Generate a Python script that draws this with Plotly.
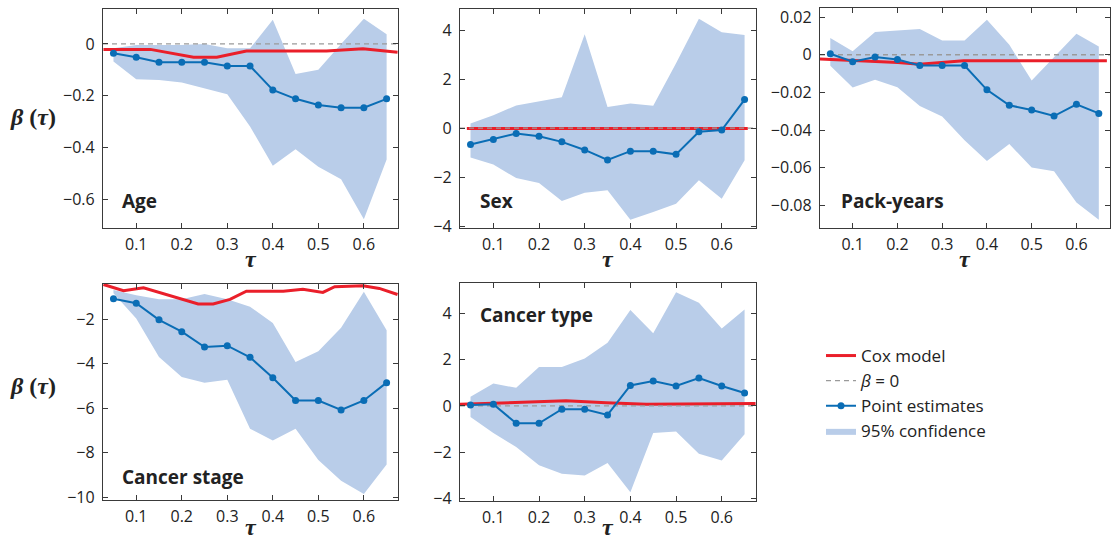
import plotly.graph_objects as go

# ---------------- data ----------------
tau = [0.05, 0.10, 0.15, 0.20, 0.25, 0.30, 0.35, 0.40, 0.45, 0.50, 0.55, 0.60, 0.65]

age_est = [-0.036, -0.051, -0.071, -0.071, -0.071, -0.085, -0.085, -0.178, -0.212, -0.236, -0.246, -0.246, -0.212]
age_hi = [-0.017, -0.004, -0.004, -0.004, 0.0, -0.017, -0.017, 0.093, -0.116, -0.100, 0.0, 0.097, 0.037]
age_lo = [-0.068, -0.136, -0.139, -0.149, -0.171, -0.194, -0.319, -0.471, -0.407, -0.474, -0.523, -0.677, -0.446]
age_cox_x = [0.028, 0.131, 0.226, 0.277, 0.342, 0.518, 0.598, 0.674]
age_cox_y = [-0.021, -0.021, -0.051, -0.051, -0.027, -0.027, -0.019, -0.032]

sex_est = [-0.67, -0.46, -0.22, -0.33, -0.56, -0.89, -1.30, -0.94, -0.94, -1.07, -0.15, -0.08, 1.17]
sex_hi = [0.19, 0.53, 0.93, 1.08, 1.26, 3.84, 0.87, 1.01, 0.92, 2.65, 4.47, 3.92, 3.81]
sex_lo = [-1.20, -1.49, -2.04, -2.24, -2.98, -2.64, -2.54, -3.74, -3.43, -3.09, -2.13, -2.88, -1.31]
sex_cox_x = [0.042, 0.657]
sex_cox_y = [-0.01, -0.01]

pack_est = [0.0005, -0.0037, -0.0012, -0.0025, -0.0057, -0.0057, -0.0057, -0.0186, -0.0268, -0.0293, -0.0325, -0.0263, -0.0311]
pack_hi = [0.0089, 0.0018, 0.0121, 0.0130, 0.0137, 0.0075, 0.0075, 0.0186, 0.0053, -0.0137, -0.0010, 0.0112, 0.0044]
pack_lo = [-0.0059, -0.0174, -0.0133, -0.0172, -0.0272, -0.0328, -0.0453, -0.0563, -0.0474, -0.0598, -0.0618, -0.0784, -0.0875]
pack_cox_x = [0.026, 0.201, 0.249, 0.348, 0.668]
pack_cox_y = [-0.0023, -0.0041, -0.0050, -0.0032, -0.0032]

stage_est = [-1.08, -1.28, -2.03, -2.56, -3.25, -3.19, -3.71, -4.63, -5.65, -5.65, -6.08, -5.65, -4.85]
stage_hi = [-0.69, -0.92, -1.10, -1.10, -0.87, -1.11, -1.44, -2.17, -3.92, -3.44, -2.39, -0.77, -2.50]
stage_lo = [-0.84, -1.97, -3.70, -4.60, -4.85, -4.72, -6.92, -7.45, -6.92, -8.32, -9.25, -9.85, -8.53]
stage_cox_x = [0.028, 0.072, 0.116, 0.182, 0.236, 0.269, 0.306, 0.342, 0.423, 0.466, 0.510, 0.536, 0.598, 0.634, 0.674]
stage_cox_y = [-0.44, -0.72, -0.59, -0.99, -1.32, -1.32, -1.11, -0.74, -0.74, -0.66, -0.80, -0.54, -0.50, -0.62, -0.89]

type_est = [0.04, 0.07, -0.75, -0.75, -0.14, -0.14, -0.39, 0.88, 1.07, 0.86, 1.20, 0.86, 0.56]
type_hi = [0.39, 0.97, 0.78, 1.68, 1.68, 2.04, 2.72, 4.14, 3.13, 4.90, 4.45, 3.34, 4.16]
type_lo = [-0.48, -1.17, -1.77, -2.56, -2.93, -3.00, -2.46, -3.72, -1.17, -1.10, -2.06, -2.35, -1.22]
type_cox_x = [0.025, 0.259, 0.347, 0.435, 0.674]
type_cox_y = [0.07, 0.22, 0.14, 0.07, 0.10]

panel_names = ["Age", "Sex", "Pack-years", "Cancer stage", "Cancer type"]
x_ticks = [0.1, 0.2, 0.3, 0.4, 0.5, 0.6]
y_ticks = [
    [0, -0.2, -0.4, -0.6],
    [-4, -2, 0, 2, 4],
    [0.02, 0, -0.02, -0.04, -0.06, -0.08],
    [-2, -4, -6, -8, -10],
    [-4, -2, 0, 2, 4],
]

# ---------------- layout constants ----------------
W, H = 1115, 540
X_RANGE = [0.027, 0.675]
Y_RANGES = [[-0.711, 0.135], [-4.08, 4.87], [-0.0919, 0.0248], [-10.12, -0.42], [-4.10, 5.30]]
# pixel boxes (left, right, top, bottom)
boxes = [(103, 398, 9, 228), (460, 756, 9, 228), (820, 1110, 8, 228),
         (103, 398, 284, 500), (460, 756, 283, 501)]
label_pos = [(0.058, 0.123), (0.061, 0.123), (0.066, 0.123),
             (0.058, 0.108), (0.061, 0.854)]
tau_label_offset = [31, 31, 31, 27, 26]

BAND = "#b9cde9"
BLUE = "#0a6db5"
RED = "#ea1f2a"
GRAY = "#9a9a9a"
AX = "#3a3a3a"
TXT = "#222222"
SANS = "Open Sans, Noto Sans, sans-serif"
SERIF = "Liberation Serif, DejaVu Serif, serif"

panels = [
    (age_est, age_hi, age_lo, age_cox_x, age_cox_y),
    (sex_est, sex_hi, sex_lo, sex_cox_x, sex_cox_y),
    (pack_est, pack_hi, pack_lo, pack_cox_x, pack_cox_y),
    (stage_est, stage_hi, stage_lo, stage_cox_x, stage_cox_y),
    (type_est, type_hi, type_lo, type_cox_x, type_cox_y),
]

fig = go.Figure()
layout = dict(
    width=W, height=H, margin=dict(l=0, r=0, t=0, b=0, pad=0),
    paper_bgcolor="white", plot_bgcolor="white",
    font=dict(family=SANS, size=16, color=TXT),
    showlegend=True,
)
annotations = []

for i, (est, hi, lo, cx, cy) in enumerate(panels):
    n = i + 1
    xa = "x" if n == 1 else f"x{n}"
    ya = "y" if n == 1 else f"y{n}"
    first = i == 0
    # confidence band
    fig.add_trace(go.Scatter(
        x=tau + tau[::-1], y=hi + lo[::-1], fill="toself", fillcolor=BAND,
        line=dict(width=0, color=BAND), mode="lines", hoverinfo="skip",
        name="95% confidence", legendgroup="ci", showlegend=first, legendrank=4,
        xaxis=xa, yaxis=ya))
    # Cox model
    fig.add_trace(go.Scatter(
        x=cx, y=cy, mode="lines", line=dict(color=RED, width=3),
        name="Cox model", legendgroup="cox", showlegend=first, legendrank=1,
        xaxis=xa, yaxis=ya))
    # beta = 0 reference line spanning the axis
    fig.add_trace(go.Scatter(
        x=X_RANGE, y=[0, 0], mode="lines", line=dict(color=GRAY, width=1.3, dash="5px,4px"),
        name="<i>β</i> = 0", legendgroup="zero", showlegend=first, legendrank=2,
        hoverinfo="skip", xaxis=xa, yaxis=ya))
    # point estimates
    fig.add_trace(go.Scatter(
        x=tau, y=est, mode="lines+markers", line=dict(color=BLUE, width=2),
        marker=dict(color=BLUE, size=7),
        name="Point estimates", legendgroup="pe", showlegend=first, legendrank=3,
        xaxis=xa, yaxis=ya))

    l, r, t, b = boxes[i]
    axis_common = dict(showline=True, linecolor=AX, linewidth=1.3, mirror="ticks",
                       ticks="inside", ticklen=5, tickwidth=1.3, tickcolor=AX,
                       showgrid=False, zeroline=False, automargin=False,
                       tickfont=dict(family=SANS, size=16, color=TXT))
    layout["xaxis" if n == 1 else f"xaxis{n}"] = dict(
        domain=[l / W, r / W], range=X_RANGE, tickvals=x_ticks,
        anchor=ya, ticklabelstandoff=2, **axis_common)
    layout["yaxis" if n == 1 else f"yaxis{n}"] = dict(
        domain=[1 - b / H, 1 - t / H], range=Y_RANGES[i], tickvals=y_ticks[i],
        anchor=xa, ticklabelstandoff=4, **axis_common)

    lx, ly = label_pos[i]
    annotations.append(dict(
        text=f"<b>{panel_names[i]}</b>", x=lx, y=ly,
        xref=f"{xa} domain", yref=f"{ya} domain", xanchor="left", yanchor="middle",
        showarrow=False, font=dict(family=SANS, size=19, color=TXT)))

    # x-axis title (tau)
    annotations.append(dict(
        text="<b><i>τ</i></b>", x=0.5, y=-tau_label_offset[i] / (b - t),
        xref=f"{xa} domain", yref=f"{ya} domain",
        xanchor="center", yanchor="middle", showarrow=False,
        font=dict(family=SERIF, size=24, color=TXT)))

# y-axis titles
for yy in (1 - 117 / H, 1 - 386 / H):
    annotations.append(dict(
        text="<b><i>β</i> (<i>τ</i>)</b>", x=33 / W, y=yy, xref="paper", yref="paper",
        xanchor="center", yanchor="middle", showarrow=False,
        font=dict(family=SERIF, size=24, color=TXT)))

layout["annotations"] = annotations
layout["legend"] = dict(
    x=821 / W, y=1 - 338 / H, xanchor="left", yanchor="top",
    font=dict(family=SANS, size=17, color=TXT), bgcolor="rgba(0,0,0,0)",
    tracegroupgap=0, itemwidth=30)
fig.update_layout(**layout)

fig.write_html("out.html", config={"displayModeBar": False},
               post_script="document.body.style.margin='0px';")
